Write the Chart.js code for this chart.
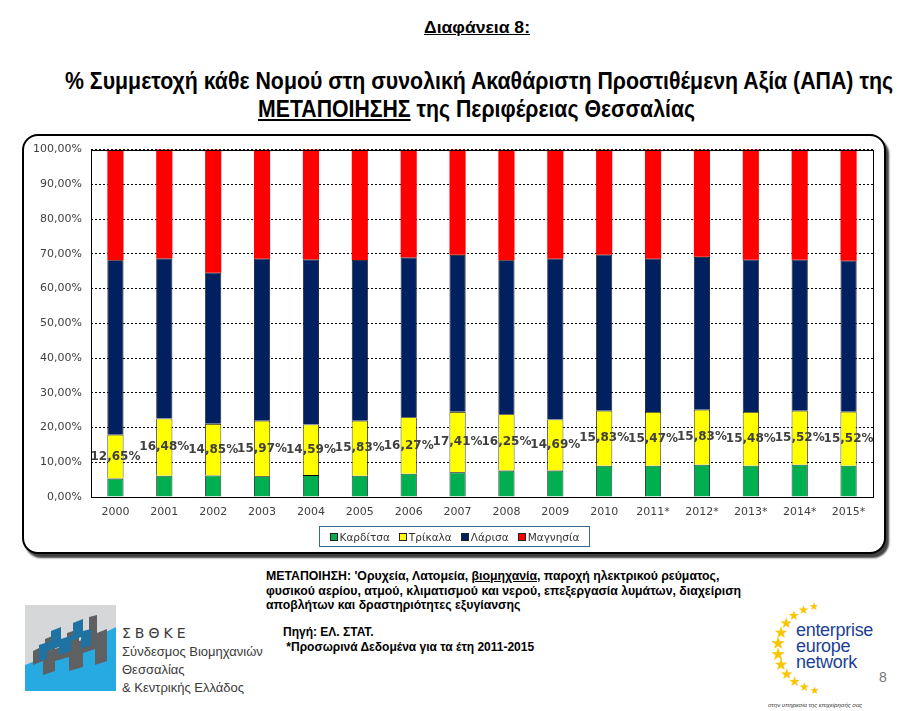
<!DOCTYPE html>
<html>
<head>
<meta charset="utf-8">
<script src="https://cdn.jsdelivr.net/npm/chart.js@4.4.1/dist/chart.umd.min.js"></script>
<style>
  body { margin:0; width:897px; height:711px; background:#fff; position:relative; overflow:hidden;
         font-family:"Liberation Sans", Arial, sans-serif; color:#000; }
  .abs { position:absolute; white-space:nowrap; }
  .fit { display:inline-block; transform-origin:left center; }
  #box { position:absolute; left:22px; top:134px; width:860px; height:416px; border:2px solid #000;
         border-radius:16px; box-shadow:3px 4px 2px rgba(0,0,0,0.75); background:#fff; }
  #wrap { position:absolute; left:22px; top:134px; width:864px; height:420px; }
  #legend { position:absolute; left:319px; top:526px; width:269px; height:19px; border:1px solid #3a6a93;
            display:flex; align-items:center; justify-content:center; gap:9px;
            font-family:"DejaVu Sans", Verdana, sans-serif; font-size:10.5px; color:#333; }
  #legend span.sq { display:inline-block; width:6px; height:6px; border:1px solid #222; margin-right:2px; vertical-align:0px; }
  .een { color:#1d3f91; font-family:"Liberation Sans", Arial, sans-serif; font-size:18px; line-height:16px; letter-spacing:-0.3px; }
</style>
</head>
<body>
<div class="abs" style="left:424px;top:19px;">
  <span class="fit" data-w="106" style="font-weight:bold;font-size:16px;text-decoration:underline;">Διαφάνεια 8:</span>
</div>
<div class="abs" id="t1" style="left:65px;top:68px;">
  <span class="fit" data-w="828" style="font-weight:bold;font-size:23px;">% Συμμετοχή κάθε Νομού στη συνολική Ακαθάριστη Προστιθέμενη Αξία (ΑΠΑ) της</span>
</div>
<div class="abs" style="left:258px;top:96px;">
  <span class="fit" data-w="437" style="font-weight:bold;font-size:23px;"><u>ΜΕΤΑΠΟΙΗΣΗΣ</u> της Περιφέρειας Θεσσαλίας</span>
</div>

<div id="box"></div>
<div id="wrap"><canvas id="chart"></canvas></div>
<div id="legend"></div>

<div class="abs" style="left:266px;top:569px;font-weight:bold;font-size:12.3px;line-height:14.5px;">
  ΜΕΤΑΠΟΙΗΣΗ: 'Ορυχεία, Λατομεία, <u>βιομηχανία</u>, παροχή ηλεκτρικού ρεύματος,<br>
  φυσικού αερίου, ατμού, κλιματισμού και νερού, επεξεργασία λυμάτων, διαχείριση<br>
  αποβλήτων και δραστηριότητες εξυγίανσης
</div>
<div class="abs" style="left:283px;top:625px;font-weight:bold;font-size:12px;line-height:15px;">
  Πηγή: ΕΛ. ΣΤΑΤ.<br>&nbsp;*Προσωρινά Δεδομένα για τα έτη 2011-2015
</div>

<svg class="abs" style="left:25px;top:605px;" width="91" height="86" viewBox="0 0 91 86">
  <rect x="0" y="0" width="91" height="86" fill="#d5d7d9"/>
  <polygon points="0,60 20,52 40,46 60,38 75,30 91,22 91,86 0,86" fill="#27a9e1"/>
  <polygon points="8,46 20,40 20,34 30,30 30,44 42,40 42,28 54,24 54,36 64,32 64,12 72,10 72,28 82,24 82,56 70,60 70,44 58,48 58,62 44,66 44,52 30,56 30,66 18,70 18,56 8,60" fill="#5f6062"/>
  <polygon points="14,40 26,36 26,26 36,22 36,34 48,30 48,18 58,14 58,26 66,24 66,40 56,44 56,32 46,36 46,46 34,50 34,42 22,46 22,54 14,56" fill="#1f73a3"/>
</svg>
<div class="abs" style="left:122px;top:625px;font-size:14px;letter-spacing:4px;color:#3a3a3a;font-family:'DejaVu Sans',sans-serif;">ΣΒΘΚΕ</div>
<div class="abs" style="left:122px;top:643px;font-size:13px;line-height:18px;color:#3a3a3a;font-family:'Liberation Sans',Arial,sans-serif;">
  Σύνδεσμος Βιομηχανιών<br>Θεσσαλίας<br>& Κεντρικής Ελλάδος
</div>

<svg class="abs" id="stars" style="left:760px;top:596px;" width="90" height="104"></svg>
<div class="abs een" style="left:796px;top:622px;">enterprise<br>europe<br>network</div>
<div class="abs" style="left:879px;top:669px;font-size:14px;color:#777;">8</div>
<div class="abs" style="left:768px;top:702px;font-size:6px;font-style:italic;color:#333;">στην υπηρεσία της επιχείρησής σας</div>

<script>
// values (% of regional GVA in manufacturing)
const years = ['2000','2001','2002','2003','2004','2005','2006','2007','2008','2009','2010','2011*','2012*','2013*','2014*','2015*'];
const karditsa = [5.3, 6.1, 6.2, 6.0, 6.3, 6.1, 6.7, 7.1, 7.6, 7.6, 9.0, 9.0, 9.3, 9.0, 9.3, 9.0];
const trikala = [12.65, 16.48, 14.85, 15.97, 14.59, 15.83, 16.27, 17.41, 16.25, 14.69, 15.83, 15.47, 15.83, 15.48, 15.52, 15.52];
const larisa = [50.2, 46.1, 43.5, 46.6, 47.5, 46.3, 46.0, 45.2, 44.3, 46.3, 44.9, 44.1, 44.0, 43.8, 43.5, 43.5];
const magnesia = [31.8, 31.4, 35.5, 31.4, 31.7, 31.8, 31.0, 30.3, 31.8, 31.4, 30.3, 31.5, 30.9, 31.8, 31.7, 32.0];
const seriesNames = ['Καρδίτσα', 'Τρίκαλα', 'Λάρισα', 'Μαγνησία'];
const seriesColors = ['#00b050', '#ffff00', '#002060', '#ff0000'];

function pct(v) { return v.toFixed(2).replace('.', ',') + '%'; }

// fit title lines to their width in the slide
document.querySelectorAll('.fit').forEach(el => {
  let w = el.getBoundingClientRect().width;
  el.style.transform = 'scaleX(' + (el.dataset.w / w) + ')';
});

// stars of the EEN logo
(function() {
  let svg = document.getElementById('stars');
  let cx = 60, cy = 52, r = 42;
  let html = '';
  for (let i = 0; i < 12; i++) {
    let a = (-98 - i * 15) * Math.PI / 180;
    let size = 18 - Math.abs(i - 5.5) * 1.3;
    let x = cx + r * Math.cos(a), y = cy + r * Math.sin(a);
    html += '<text x="' + x.toFixed(1) + '" y="' + (y + size * 0.35).toFixed(1) + '" font-size="' + size.toFixed(1) +
            '" text-anchor="middle" fill="#f7c600" font-family="DejaVu Sans">★</text>';
  }
  svg.innerHTML = html;
})();

// legend
let legend = document.getElementById('legend');
seriesNames.forEach((n, i) => {
  let item = document.createElement('span');
  item.innerHTML = '<span class="sq" style="background:' + seriesColors[i] + '"></span>' + n;
  legend.appendChild(item);
});

const datasets = [karditsa, trikala, larisa, magnesia].map((d, i) => ({
  label: seriesNames[i],
  data: d,
  backgroundColor: seriesColors[i],
  borderColor: '#000',
  borderWidth: i == 3 ? 0 : 0.8,
  barPercentage: 0.33,
  categoryPercentage: 1
}));

const labelPlugin = {
  id: 'labels',
  afterDatasetsDraw(chart) {
    let ctx = chart.ctx;
    let meta = chart.getDatasetMeta(1);
    ctx.save();
    ctx.font = 'bold 12px "DejaVu Sans", Verdana, sans-serif';
    ctx.fillStyle = '#404040';
    ctx.textAlign = 'center';
    ctx.textBaseline = 'middle';
    meta.data.forEach((bar, i) => {
      ctx.fillText(pct(trikala[i]), bar.x, (bar.y + bar.base) / 2);
    });
    ctx.restore();
  },
  afterDraw(chart) {
    let a = chart.chartArea, ctx = chart.ctx;
    ctx.save();
    ctx.strokeStyle = '#000';
    ctx.lineWidth = 1;
    ctx.strokeRect(Math.round(a.left) + 0.5, Math.round(a.top) + 0.5, Math.round(a.right - a.left), Math.round(a.bottom - a.top));
    ctx.restore();
  }
};

new Chart(document.getElementById('chart'), {
  type: 'bar',
  data: { labels: years, datasets: datasets },
  options: {
    responsive: true,
    maintainAspectRatio: false,
    animation: false,
    layout: { padding: { left: 0, right: 13, top: 14, bottom: 27 } },
    plugins: { legend: { display: false }, tooltip: { enabled: false } },
    scales: {
      x: {
        stacked: true,
        grid: { display: false, drawTicks: false },
        border: { display: false },
        ticks: { color: '#404040', padding: 9, maxRotation: 0, font: { family: '"DejaVu Sans", Verdana, sans-serif', size: 11 } },
        afterFit(scale) { scale.height = 30; }
      },
      y: {
        stacked: true,
        min: 0, max: 100,
        grid: { color: '#000', lineWidth: 1, drawTicks: false },
        border: { display: false, dash: [2, 2] },
        ticks: { stepSize: 10, color: '#404040', padding: 9, callback: v => pct(v), font: { family: '"DejaVu Sans", Verdana, sans-serif', size: 11 } },
        afterFit(scale) { scale.width = 69; }
      }
    }
  },
  plugins: [labelPlugin]
});
</script>
</body>
</html>
